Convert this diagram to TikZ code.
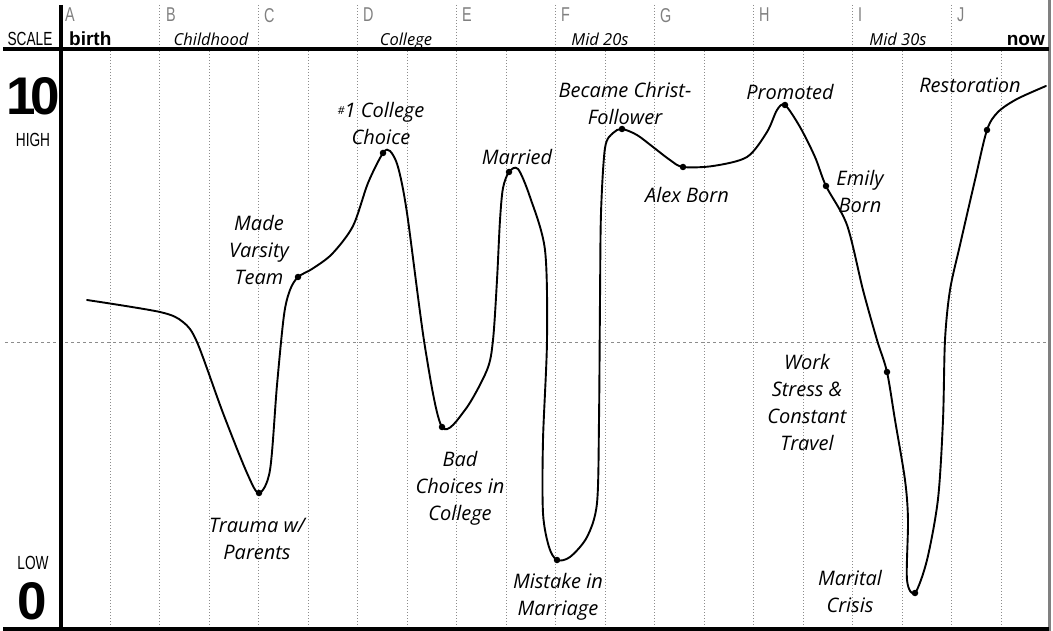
\documentclass[tikz,border=0pt]{standalone}
\usepackage{fontspec}
\setmainfont{Liberation Sans}
\newfontfamily\hand{Open Sans}
\newfontfamily\cond{Liberation Sans}[FakeStretch=0.72]
\begin{document}
\begin{tikzpicture}[x=1pt,y=-1pt,
  lbl/.style={font=\hand\itshape\fontsize{20}{27}\selectfont, align=center, inner sep=0pt},
  hdr/.style={font=\hand\itshape\fontsize{16.5}{18}\selectfont, inner sep=0pt, anchor=base},
  letter/.style={font=\cond\fontsize{20}{20}\selectfont, text=black!50, anchor=north west, inner sep=0pt},
  scl/.style={font=\cond\fontsize{19}{19}\selectfont, anchor=base, inner sep=0pt},
  big/.style={font=\bfseries\fontsize{53}{53}\selectfont, anchor=base, inner sep=0pt},
  endlbl/.style={font=\bfseries\fontsize{19}{19}\selectfont, inner sep=0pt},
  dot/.style={circle, fill=black, inner sep=0pt, minimum size=6.5pt},
  gridline/.style={black!45, line width=0.7pt, dash pattern=on 1pt off 2pt},
  frame/.style={line width=3.5pt},
  curve/.style={line width=1.9pt, line cap=round, line join=round}]
\useasboundingbox (0,0) rectangle (1053,631);

% grid
\foreach \i in {0,...,18} {
  \draw[gridline] ({110+49.5*\i},51) -- ({110+49.5*\i},627);
}
\foreach \i in {1,3,...,17} {
  \draw[gridline] ({110+49.5*\i},5) -- ({110+49.5*\i},47);
}
\draw[black!45, line width=0.7pt, dash pattern=on 3pt off 3pt] (5,342) -- (1047,342);

% frame
\draw[black!50, line width=3pt] (1049,0) -- (1049,631);
\draw[frame] (61,5) -- (61,631);
\draw[frame] (3,49) -- (1049,49);
\draw[frame] (3,629) -- (1049,629);

% header letters
\node[letter] (lA) at (65,8) {A};
\node[letter] (lB) at (166,8) {B};
\node[letter] (lC) at (264,8) {C};
\node[letter] (lD) at (363,8) {D};
\node[letter] (lE) at (462,8) {E};
\node[letter] (lF) at (561,8) {F};
\node[letter] (lG) at (660,8) {G};
\node[letter] (lH) at (759,8) {H};
\node[letter] (lI) at (858,8) {I};
\node[letter] (lJ) at (957,8) {J};

\node[endlbl, anchor=base west] (birth) at (69,46) {birth};
\node[endlbl, anchor=base east] (now) at (1045,46) {now};
\node[hdr] (hchild) at (211,46) {Childhood};
\node[hdr] (hcoll) at (406,46) {College};
\node[hdr] (h20) at (600,46) {Mid 20s};
\node[hdr] (h30) at (898,46) {Mid 30s};

% scale
\node[scl] (scale) at (30,46) {SCALE};
\node[big] (ten) at (33,115) {1\kern-5pt0};
\node[scl] (high) at (33,147) {HIGH};
\node[scl] (low) at (33,569) {LOW};
\node[big] (zero) at (32,619) {0};

% key points
\coordinate (T) at (259,493);
\coordinate (V) at (298,277);
\coordinate (C) at (383,153);
\coordinate (B) at (442,427);
\coordinate (M) at (509,172);
\coordinate (K) at (557,560);
\coordinate (F) at (622,129);
\coordinate (A) at (683,167);
\coordinate (P) at (785,105);
\coordinate (E) at (826,186);
\coordinate (W) at (887,372);
\coordinate (X) at (915,593);
\coordinate (R) at (987,130);

\draw[curve] plot[smooth, tension=0.5] coordinates {
 (87,300) (160,312) (183,322) (197,342) (223,413) (247,473) (T)
 (270,470) (277,385) (284,315) (290,290) (V)
 (312,269) (332,254) (353,226) (368,183) (C) (390,151) (398,167) (407,213) (425,347) (B)
 (465,410) (487,370) (493,340) (497,280) (500,220) (503,188) (M)
 (518,169) (530,197) (545,250) (547,340) (543,440) (543,513) (549,547) (K)
 (570,557) (587,537) (597,503) (599,420) (600,300) (601,213) (605,148) (613,133) (F)
 (637,135) (653,147) (670,160) (A)
 (713,166) (747,157) (767,132) (777,110) (P)
 (800,127) (815,157) (E)
 (847,225) (863,290) (877,340) (W)
 (895,420) (905,480) (908,520) (907,580) (X)
 (927,560) (938,499) (943,420) (945,340) (950,290) (960,245) (975,180) (R)
 (998,112) (1017,99) (1046,86)};

\foreach \p in {T,V,C,B,M,K,F,A,P,E,W,X,R} {
  \node[dot] (d\p) at (\p) {};
}

% labels
\node[lbl] (tT) at (257,539) {Trauma w/\\Parents};
\node[lbl] (tV) at (259,250) {Made\\Varsity\\Team};
\node[lbl] (tC) at (381,124) {\raisebox{3pt}{\fontsize{11}{11}\selectfont\#}1 College\\Choice};
\node[lbl] (tB) at (460,488) {Bad\\Choices in\\College};
\node[lbl] (tM) at (517,157) {Married};
\node[lbl] (tK) at (558,597) {Mistake in\\Marriage};
\node[lbl] (tF) at (625,104) {Became Christ-\\Follower};
\node[lbl] (tA) at (687,195) {Alex Born};
\node[lbl] (tP) at (790,92) {Promoted};
\node[lbl] (tE) at (860,191) {Emily\\Born};
\node[lbl] (tW) at (807,402) {Work\\Stress \&\\Constant\\Travel};
\node[lbl] (tX) at (850,591) {Marital\\Crisis};
\node[lbl] (tR) at (970,85) {Restoration};
\end{tikzpicture}
\end{document}
